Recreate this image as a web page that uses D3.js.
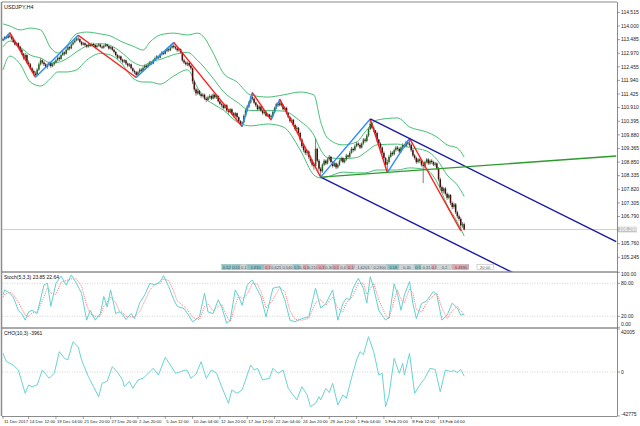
<!DOCTYPE html>
<html>
<head>
<meta charset="utf-8">
<script src="https://cdnjs.cloudflare.com/ajax/libs/d3/7.8.5/d3.min.js"></script>
<style>
  html, body { margin: 0; padding: 0; background: #fff; }
  svg { display: block; font-family: "Liberation Sans", Arial, sans-serif; }
</style>
</head>
<body>
<div id="chart"></div>
<script>
// USDJPY H4 bars, index 0 = first visible bar
const firstOpen = 113.46;
const closes = [
  113.50,113.58,113.55,113.64,113.60,113.52,113.40,113.30,113.35,113.22,
  113.10,112.95,112.80,112.90,112.62,112.55,112.40,112.30,112.20,112.15,
  112.35,112.55,112.70,112.62,112.55,112.45,112.52,112.60,112.48,112.55,
  112.62,112.70,112.80,112.75,112.90,113.00,112.95,113.10,113.20,113.15,
  113.30,113.38,113.45,113.52,113.50,113.40,113.30,113.35,113.28,113.22,
  113.30,113.25,113.32,113.28,113.20,113.26,113.30,113.22,113.18,113.25,
  113.30,113.24,113.15,113.20,113.10,113.02,112.90,112.80,112.85,112.72,
  112.65,112.70,112.58,112.50,112.55,112.40,112.30,112.25,112.15,112.25,
  112.35,112.30,112.42,112.50,112.45,112.55,112.62,112.58,112.70,112.78,
  112.85,112.80,112.92,113.00,112.95,113.05,113.12,113.08,113.18,113.25,
  113.20,113.15,113.08,113.12,113.00,112.70,112.62,112.55,112.60,112.50,
  112.40,111.90,111.60,111.45,111.55,111.42,111.35,111.40,111.25,111.20,
  111.30,111.35,111.25,111.40,111.30,111.35,111.15,111.05,111.00,110.90,
  111.00,110.80,110.75,110.85,110.70,110.60,110.70,110.55,110.40,110.30,
  110.35,110.60,110.80,110.95,111.10,111.30,111.25,111.10,111.00,110.85,
  110.95,110.80,110.70,110.75,110.60,110.65,110.55,110.60,110.75,110.90,
  111.05,111.00,111.10,111.00,110.85,110.90,110.70,110.55,110.40,110.45,
  110.25,110.10,110.15,109.95,109.70,109.45,109.30,109.20,109.25,109.05,
  108.90,108.75,108.70,109.35,108.90,108.60,108.50,108.75,108.90,108.80,
  108.95,109.05,108.85,108.70,108.80,108.65,108.75,108.90,109.00,108.85,
  108.95,109.10,109.05,109.20,109.35,109.30,109.45,109.55,109.50,109.40,
  109.55,109.70,109.65,109.85,110.10,110.30,110.15,110.05,109.95,109.70,
  109.55,109.40,109.20,109.00,108.75,108.85,109.05,109.20,109.15,109.30,
  109.40,109.35,109.25,109.40,109.50,109.45,109.60,109.55,109.50,109.30,
  109.10,109.00,108.85,108.95,108.90,108.75,108.70,108.85,108.95,108.80,
  108.90,108.85,108.75,108.80,108.60,108.20,107.90,107.75,107.85,107.65,
  107.50,107.60,107.30,107.15,107.25,106.95,106.80,106.70,106.45,106.50,106.30
];
const highs = [
  113.56,113.62,113.63,113.70,113.75,113.64,113.55,113.45,113.40,113.38,
  113.26,113.14,112.98,112.98,112.93,112.70,112.60,112.45,112.35,112.28,
  112.40,112.62,112.78,112.74,112.68,112.60,112.58,112.66,112.64,112.60,
  112.68,112.76,112.86,112.85,112.95,113.06,113.04,113.15,113.26,113.24,
  113.35,113.44,113.52,113.58,113.65,113.55,113.44,113.40,113.38,113.32,
  113.35,113.34,113.37,113.36,113.31,113.30,113.36,113.33,113.26,113.29,
  113.36,113.33,113.27,113.24,113.23,113.14,113.06,112.94,112.90,112.88,
  112.76,112.75,112.73,112.62,112.60,112.58,112.44,112.35,112.30,112.30,
  112.40,112.40,112.47,112.55,112.54,112.60,112.68,112.66,112.75,112.84,
  112.90,112.88,112.97,113.06,113.04,113.10,113.18,113.16,113.24,113.31,
  113.38,113.26,113.20,113.17,113.15,113.02,112.76,112.68,112.66,112.64,
  112.54,112.44,111.96,111.66,111.62,111.58,111.48,111.46,111.44,111.32,
  111.36,111.42,111.40,111.46,111.44,111.40,111.38,111.20,111.10,111.04,
  111.06,111.04,110.86,110.90,110.88,110.74,110.75,110.72,110.58,110.44,
  110.40,110.66,110.86,111.02,111.16,111.36,111.48,111.30,111.14,111.04,
  111.00,110.98,110.85,110.80,110.78,110.70,110.68,110.65,110.80,110.95,
  111.10,111.12,111.23,111.15,111.04,110.96,110.94,110.74,110.60,110.52,
  110.48,110.30,110.22,110.18,110.00,109.76,109.52,109.36,109.32,109.30,
  109.10,108.96,108.82,109.75,109.40,108.96,108.66,108.80,108.96,108.94,
  109.02,109.12,109.08,108.90,108.86,108.84,108.80,108.95,109.06,109.04,
  109.00,109.16,109.14,109.26,109.42,109.40,109.52,109.62,109.60,109.56,
  109.60,109.76,109.76,109.92,110.16,110.48,110.36,110.20,110.06,110.00,
  109.74,109.60,109.44,109.26,109.04,108.94,109.12,109.28,109.26,109.36,
  109.46,109.46,109.40,109.45,109.56,109.55,109.66,109.68,109.75,109.55,
  109.36,109.16,109.06,109.00,109.00,108.96,108.82,108.90,109.00,109.00,
  108.95,108.96,108.90,108.86,108.84,108.66,108.26,107.96,107.90,107.90,
  107.70,107.66,107.64,107.36,107.32,107.30,107.00,106.86,106.76,106.58,106.56
];
const lows = [
  113.44,113.47,113.50,113.52,113.55,113.46,113.36,113.25,113.24,113.18,
  113.05,112.90,112.72,112.74,112.58,112.48,112.35,112.24,112.12,112.06,
  112.10,112.30,112.50,112.55,112.48,112.40,112.38,112.47,112.42,112.44,
  112.50,112.58,112.66,112.68,112.72,112.86,112.88,112.92,113.06,113.08,
  113.12,113.26,113.34,113.42,113.44,113.35,113.25,113.26,113.22,113.16,
  113.18,113.20,113.22,113.23,113.15,113.16,113.22,113.18,113.12,113.14,
  113.21,113.19,113.10,113.11,113.05,112.96,112.85,112.74,112.75,112.66,
  112.58,112.60,112.52,112.44,112.45,112.35,112.24,112.18,112.05,112.10,
  112.20,112.24,112.27,112.38,112.40,112.42,112.50,112.52,112.55,112.66,
  112.74,112.74,112.77,112.88,112.90,112.92,113.00,113.02,113.05,113.14,
  113.15,113.10,113.02,113.03,112.95,112.64,112.56,112.50,112.48,112.44,
  112.34,111.80,111.52,111.36,111.40,111.37,111.28,111.30,111.20,111.12,
  111.15,111.25,111.20,111.22,111.25,111.24,111.10,111.00,110.92,110.84,
  110.86,110.75,110.68,110.70,110.64,110.54,110.56,110.48,110.34,110.24,
  110.19,110.32,110.56,110.76,110.90,111.06,111.18,111.04,110.94,110.80,
  110.82,110.75,110.64,110.65,110.55,110.55,110.48,110.44,110.56,110.70,
  110.86,110.94,110.96,110.94,110.80,110.80,110.64,110.50,110.34,110.34,
  110.20,110.04,110.02,109.90,109.62,109.38,109.22,109.12,109.10,108.98,
  108.82,108.68,108.56,108.66,108.84,108.52,108.28,108.44,108.70,108.74,
  108.76,108.90,108.80,108.64,108.66,108.58,108.60,108.70,108.86,108.80,
  108.80,108.90,108.98,109.00,109.16,109.22,109.26,109.40,109.44,109.34,
  109.36,109.50,109.58,109.60,109.80,110.05,110.10,109.98,109.88,109.62,
  109.48,109.34,109.12,108.92,108.66,108.45,108.80,109.00,109.08,109.10,
  109.24,109.28,109.18,109.20,109.34,109.38,109.40,109.48,109.42,109.24,
  109.04,108.94,108.78,108.80,108.82,108.68,108.05,108.60,108.80,108.74,
  108.74,108.78,108.70,108.68,108.54,108.12,107.82,107.68,107.66,107.58,
  107.42,107.44,107.22,107.06,107.08,106.88,106.72,106.62,106.25,106.36,106.26
];
const currentPrice = 106.296;

// Bollinger bands read at sample bars
const bbIdx = [0,4,10,16,22,28,32,37,43,49,57,63,69,76,82,86,92,100,108,114,117,123,129,137,145,155,164,174,182,186,190,199,207,212,219,231,238,248,254,260,266,270];
const bbUp  = [114.08,114.00,113.85,113.92,113.85,113.17,112.98,113.24,113.70,113.77,113.70,113.62,113.42,113.24,113.09,113.39,113.66,113.73,113.66,113.73,113.62,112.98,112.22,111.88,111.39,111.31,111.39,111.50,111.39,110.37,109.76,109.50,109.61,109.99,110.44,110.52,110.18,109.99,109.80,109.50,109.38,109.04];
const bbMid = [113.21,113.43,113.20,112.90,112.79,112.60,112.62,112.75,113.02,113.24,113.33,113.26,113.02,112.64,112.49,112.64,112.73,112.92,113.00,112.69,112.49,112.02,111.52,111.12,110.80,110.80,110.78,110.40,109.87,109.31,109.02,108.98,109.02,109.21,109.50,109.53,109.40,109.27,108.95,108.36,107.98,107.55];
const bbLow = [112.34,112.86,112.56,111.88,111.73,112.03,112.26,112.26,112.34,112.71,112.96,112.90,112.62,112.03,111.88,111.88,111.80,112.11,112.34,111.65,111.35,111.05,110.82,110.37,110.22,110.29,110.18,109.31,108.36,108.25,108.29,108.47,108.44,108.44,108.55,108.55,108.63,108.55,108.10,107.23,106.58,106.05];

// ZigZag pivots [bar, price]
const zigzag = [[0,113.44],[4,113.75],[19,112.06],[44,113.65],[78,112.05],[100,113.38],[140,110.19],[146,111.48],[157,110.44],[162,111.23],[186,108.28],[215,110.48],[225,108.45],[238,109.75],[268,106.25]];

// Trend lines (rays) [bar, price] -> [bar, price]
const channelTop = [[215,110.48],[359,105.84]];
const channelBottom = [[186,108.28],[359,102.72]];
const greenRay = [[186,108.28],[359,109.08]];

// Stochastic (5,3,3)
const stochIdx = [0,1,4,6,9,11,13,15,17,20,24,26,28,31,34,37,40,43,46,49,51,54,57,59,61,63,66,68,70,72,75,77,80,83,86,89,92,94,97,100,102,106,108,111,115,118,120,123,126,128,131,133,136,138,140,143,146,149,151,154,158,162,165,168,171,175,179,183,186,189,193,196,199,201,203,205,208,211,213,215,217,220,224,226,229,231,233,235,238,240,242,245,248,252,254,257,260,263,266,268,270];
const stochMain = [59,68,62,55,31,25,13,28,31,25,77,80,38,80,93,77,95,80,62,13,31,13,25,56,37,68,25,28,24,14,25,16,44,59,80,77,83,94,74,50,38,34,25,10,19,62,28,25,50,37,7,13,68,56,40,77,86,68,56,19,71,74,50,13,10,16,19,71,35,43,68,13,43,53,50,71,89,71,44,92,71,31,13,18,79,60,31,59,83,43,16,43,48,65,58,13,22,44,35,22,23.85];
const stochSignal = [55,60,64,60,45,34,22,20,26,28,55,72,62,60,82,85,88,88,75,40,25,20,20,38,45,55,45,30,27,20,19,19,28,48,68,78,80,88,85,65,48,38,32,18,14,38,42,30,38,42,20,10,40,58,52,60,80,78,65,35,50,72,65,30,14,13,16,45,50,40,55,35,28,45,50,58,80,80,60,70,80,50,22,15,50,68,50,45,70,62,32,28,44,58,62,35,16,30,38,30,22.64];
const stochLevels = [80, 20];

// Chaikin oscillator (10,3)
const choIdx = [0,2,6,9,13,15,17,20,23,27,30,33,36,38,41,44,46,50,53,56,58,61,64,67,70,71,74,76,79,82,85,88,91,95,98,101,104,107,108,110,113,116,119,122,125,128,132,134,137,140,142,145,147,149,152,156,158,161,164,167,172,175,178,180,183,185,186,189,191,193,196,199,201,204,207,209,211,214,217,220,222,224,226,229,232,234,235,238,241,244,247,250,253,256,259,262,264,266,268,270];
const choVal = [18300,10100,6900,2000,-20700,-12600,-14200,-12600,2000,-6000,-1200,19900,13400,12000,29600,24700,11800,-4500,-14200,-24000,-10900,-9000,5300,0,-7700,-14200,-9000,-15800,-7700,-6000,-1200,3700,-2800,14400,6900,-1200,500,2000,1500,-6000,-2000,10100,-6000,2000,-1000,-14200,-30400,-17400,-20700,-17400,-7700,6900,2000,3700,-7700,-6000,3700,-1200,2000,-15800,-27200,-14200,-22000,-33700,-30400,-24000,-27200,-15800,-20000,-10900,-32100,-22300,-25600,-6000,11800,19900,17000,34500,20000,-2800,-1200,-33700,-22300,13400,-1200,8600,-2800,18300,-20700,-12600,-6000,3700,2500,-19100,2000,500,1500,-500,2500,-3961];

// Axis labels (106.275 sits under the current price box)
const priceTicks = ["114.515","114.000","113.485","112.970","112.455","111.940","111.425","110.910","110.395","109.880","109.365","108.850","108.335","107.820","107.305","106.790","105.760","105.245"];
const dateIdx = [0,15,31,47,63,79,95,111,127,143,159,175,191,207,223,239,255];
const dateText = ["11 Dec 2017","14 Dec 12:00","19 Dec 04:00","21 Dec 20:00","27 Dec 20:00","2 Jan 20:00","5 Jan 12:00","10 Jan 04:00","12 Jan 20:00","17 Jan 12:00","22 Jan 04:00","24 Jan 20:00","29 Jan 12:00","1 Feb 04:00","5 Feb 20:00","8 Feb 12:00","13 Feb 04:00"];

// Label strip at bottom of main window
const tagEdges = [128,134,139,143,153,157,163,170,174,176,179,184,189,193,197,201,206,216,225,232,241,245,251,254,263,273];
const tagKinds = "ttgtpggtgpgpgpgpggtgtgpgp";
const tagTexts = ["0.52","0.51","0.1","0.830","0.1","0.625","0.540","0.1","0.1","0.1","0.210","0.3","0.30","0.1","0.4","0.1","1.6203","0.2300","0.58","0.40","0.5","0.31","0.1","0.2","0.4830"];

const W = 640, H = 426;
const L = 2, R = 617;
const main = { top: 2, bottom: 271.5 };
const sto = { top: 272.5, bottom: 327.5 };
const cho = { top: 328.5, bottom: 416 };

const svg = d3.select("#chart").append("svg").attr("width", W).attr("height", H);

const x = d3.scaleLinear().domain([0, 359]).range([3, 616.2]);
const y = d3.scaleLinear().domain([104.727, 114.908]).range([271, 2]);
const yS = d3.scaleLinear().domain([0, 100]).range([327.3, 272.3]);
const yC = d3.scaleLinear().domain([-42775, 42005]).range([416, 329]);

const defs = svg.append("defs");
defs.append("clipPath").attr("id", "clipMain").append("rect")
  .attr("x", L).attr("y", main.top).attr("width", R - L).attr("height", main.bottom - main.top);

// pane frames
svg.append("rect").attr("x", 0).attr("y", 0).attr("width", W).attr("height", H).attr("fill", "#fff");
const frame = svg.append("g").attr("stroke", "#8c8c8c").attr("fill", "none");
frame.append("line").attr("x1", L).attr("x2", R).attr("y1", main.top).attr("y2", main.top);
frame.append("line").attr("x1", 1.5).attr("x2", 1.5).attr("y1", main.top).attr("y2", cho.bottom).attr("stroke-width", 1.5);
frame.append("line").attr("x1", R + 0.5).attr("x2", R + 0.5).attr("y1", main.top).attr("y2", cho.bottom);
frame.append("line").attr("x1", L).attr("x2", R).attr("y1", main.bottom + 0.5).attr("y2", main.bottom + 0.5).attr("stroke", "#555");
frame.append("line").attr("x1", L).attr("x2", R).attr("y1", sto.bottom + 0.5).attr("y2", sto.bottom + 0.5).attr("stroke", "#555");
frame.append("line").attr("x1", L).attr("x2", R).attr("y1", cho.bottom + 0.5).attr("y2", cho.bottom + 0.5);

const plot = svg.append("g").attr("clip-path", "url(#clipMain)");

// current price line
plot.append("line").attr("x1", L).attr("x2", R)
  .attr("y1", y(currentPrice)).attr("y2", y(currentPrice))
  .attr("stroke", "#cfcfcf").attr("stroke-width", 1);

// Bollinger bands
const bbLine = (arr) => d3.line().curve(d3.curveMonotoneX)
  .x((d, i) => x(bbIdx[i])).y((d) => y(d))(arr);
[bbUp, bbMid, bbLow].forEach((arr) => {
  plot.append("path").attr("d", bbLine(arr)).attr("fill", "none")
    .attr("stroke", "#45bf74").attr("stroke-width", 1);
});

// candles
const bars = plot.append("g");
closes.forEach((c, i) => {
  const o = i === 0 ? firstOpen : closes[i - 1];
  const cx = x(i);
  bars.append("line").attr("x1", cx).attr("x2", cx)
    .attr("y1", y(highs[i])).attr("y2", y(lows[i]))
    .attr("stroke", "#7e7e7e").attr("stroke-width", 1);
  const top = y(Math.max(o, c)), bot = y(Math.min(o, c));
  bars.append("rect").attr("x", cx - 0.75).attr("width", 1.5)
    .attr("y", top).attr("height", Math.max(0.8, bot - top))
    .attr("fill", c >= o ? "#1d6b1d" : "#4a0d0d");
});

// zigzag
for (let k = 0; k < zigzag.length - 1; k++) {
  const a = zigzag[k], b = zigzag[k + 1];
  plot.append("line")
    .attr("x1", x(a[0])).attr("y1", y(a[1])).attr("x2", x(b[0])).attr("y2", y(b[1]))
    .attr("stroke", b[1] > a[1] ? "#2a8cff" : "#ff1a1a").attr("stroke-width", 1.4);
}

// rays
const ray = (pts, color) => {
  plot.append("line")
    .attr("x1", x(pts[0][0])).attr("y1", y(pts[0][1]))
    .attr("x2", x(pts[1][0])).attr("y2", y(pts[1][1]))
    .attr("stroke", color).attr("stroke-width", 1.4);
};
ray(channelTop, "#1a1aa6");
ray(channelBottom, "#1a1aa6");
ray(greenRay, "#2c9a2c");

// label strip
const strip = svg.append("g");
const tagFill = { t: "#86c4c4", p: "#e3a2aa", g: "#cdd3d3" };
for (let k = 0; k < tagKinds.length; k++) {
  const x0 = x(tagEdges[k]), x1 = x(tagEdges[k + 1]);
  strip.append("rect").attr("x", x0).attr("y", 264.3).attr("width", x1 - x0 - 0.4).attr("height", 5.4)
    .attr("fill", tagFill[tagKinds[k]]).attr("stroke", "#9aa").attr("stroke-width", 0.3);
  strip.append("text").attr("x", (x0 + x1) / 2).attr("y", 268.6).attr("text-anchor", "middle")
    .attr("font-size", 4).attr("fill", "#556").text(tagTexts[k]);
}
strip.append("rect").attr("x", x(277.5)).attr("y", 264.3).attr("width", x(287) - x(277.5)).attr("height", 5.4)
  .attr("fill", "#fff").attr("stroke", "#999").attr("stroke-width", 0.4);
strip.append("text").attr("x", (x(277.5) + x(287)) / 2).attr("y", 268.6).attr("text-anchor", "middle")
  .attr("font-size", 4).attr("fill", "#555").text("20:00");

// price axis
const axisText = svg.append("g").attr("font-size", 5).attr("fill", "#222");
priceTicks.forEach((t) => {
  const py = y(+t);
  svg.append("line").attr("x1", R).attr("x2", R + 3).attr("y1", py).attr("y2", py).attr("stroke", "#666").attr("stroke-width", 0.6);
  axisText.append("text").attr("x", R + 4).attr("y", py + 1.7).text(t);
});
svg.append("line").attr("x1", R).attr("x2", R + 3).attr("y1", y(106.275)).attr("y2", y(106.275)).attr("stroke", "#666").attr("stroke-width", 0.6);
svg.append("rect").attr("x", R + 1).attr("y", y(currentPrice) - 2.8).attr("width", 19).attr("height", 5.6).attr("fill", "#c4c4c4");
svg.append("text").attr("x", R + 2).attr("y", y(currentPrice) + 1.8).attr("font-size", 5).attr("fill", "#fff").text(currentPrice.toFixed(3));

svg.append("text").attr("x", 4).attr("y", 8.5).attr("font-size", 5.5).attr("fill", "#111").text("USDJPY,H4");

// stochastic window
const stoG = svg.append("g");
stochLevels.forEach((lv) => {
  stoG.append("line").attr("x1", L).attr("x2", R).attr("y1", yS(lv)).attr("y2", yS(lv))
    .attr("stroke", "#b5b5b5").attr("stroke-width", 0.6).attr("stroke-dasharray", "1,1.5");
});
const stLine = (vals) => d3.line().x((d, i) => x(stochIdx[i])).y((d) => yS(d))(vals);
stoG.append("path").attr("d", stLine(stochSignal)).attr("fill", "none")
  .attr("stroke", "#ff5a5a").attr("stroke-width", 0.9).attr("stroke-dasharray", "1,1.2");
stoG.append("path").attr("d", stLine(stochMain)).attr("fill", "none")
  .attr("stroke", "#63d0d0").attr("stroke-width", 1);
stoG.append("text").attr("x", 4).attr("y", 278.5).attr("font-size", 5).attr("fill", "#111").text("Stoch(5,3,3) 23.85 22.64");
[["100.00", 100, 274.5], ["80.00", 80, null], ["20.00", 20, null], ["0.00", 0, 324.2]].forEach(([t, v, fy]) => {
  const py = fy === null ? yS(v) : fy;
  svg.append("line").attr("x1", R).attr("x2", R + 3).attr("y1", yS(v)).attr("y2", yS(v)).attr("stroke", "#666").attr("stroke-width", 0.6);
  axisText.append("text").attr("x", R + 4).attr("y", py + 1.7).text(t);
});

// chaikin window
const choG = svg.append("g");
choG.append("line").attr("x1", L).attr("x2", R).attr("y1", yC(0)).attr("y2", yC(0))
  .attr("stroke", "#b5b5b5").attr("stroke-width", 0.6).attr("stroke-dasharray", "1,1.5");
choG.append("path")
  .attr("d", d3.line().x((d, i) => x(choIdx[i])).y((d) => yC(d))(choVal))
  .attr("fill", "none").attr("stroke", "#6ad4d4").attr("stroke-width", 1);
choG.append("text").attr("x", 4).attr("y", 334.5).attr("font-size", 5).attr("fill", "#111").text("CHO(10,3) -3961");
[["42005", 42005, 332], ["0", 0, null], ["-42775", -42775, 413.8]].forEach(([t, v, fy]) => {
  const py = fy === null ? yC(v) : fy;
  svg.append("line").attr("x1", R).attr("x2", R + 3).attr("y1", yC(v)).attr("y2", yC(v)).attr("stroke", "#666").attr("stroke-width", 0.6);
  axisText.append("text").attr("x", R + 4).attr("y", py + 1.7).text(t);
});

// time axis
const dateText_g = svg.append("g").attr("font-size", 4.3).attr("fill", "#222");
dateIdx.forEach((b, k) => {
  const tx = x(b);
  svg.append("line").attr("x1", tx).attr("x2", tx).attr("y1", cho.bottom).attr("y2", cho.bottom + 3)
    .attr("stroke", "#666").attr("stroke-width", 0.6);
  dateText_g.append("text").attr("x", tx + 1).attr("y", 422.5).text(dateText[k]);
});
</script>
</body>
</html>
